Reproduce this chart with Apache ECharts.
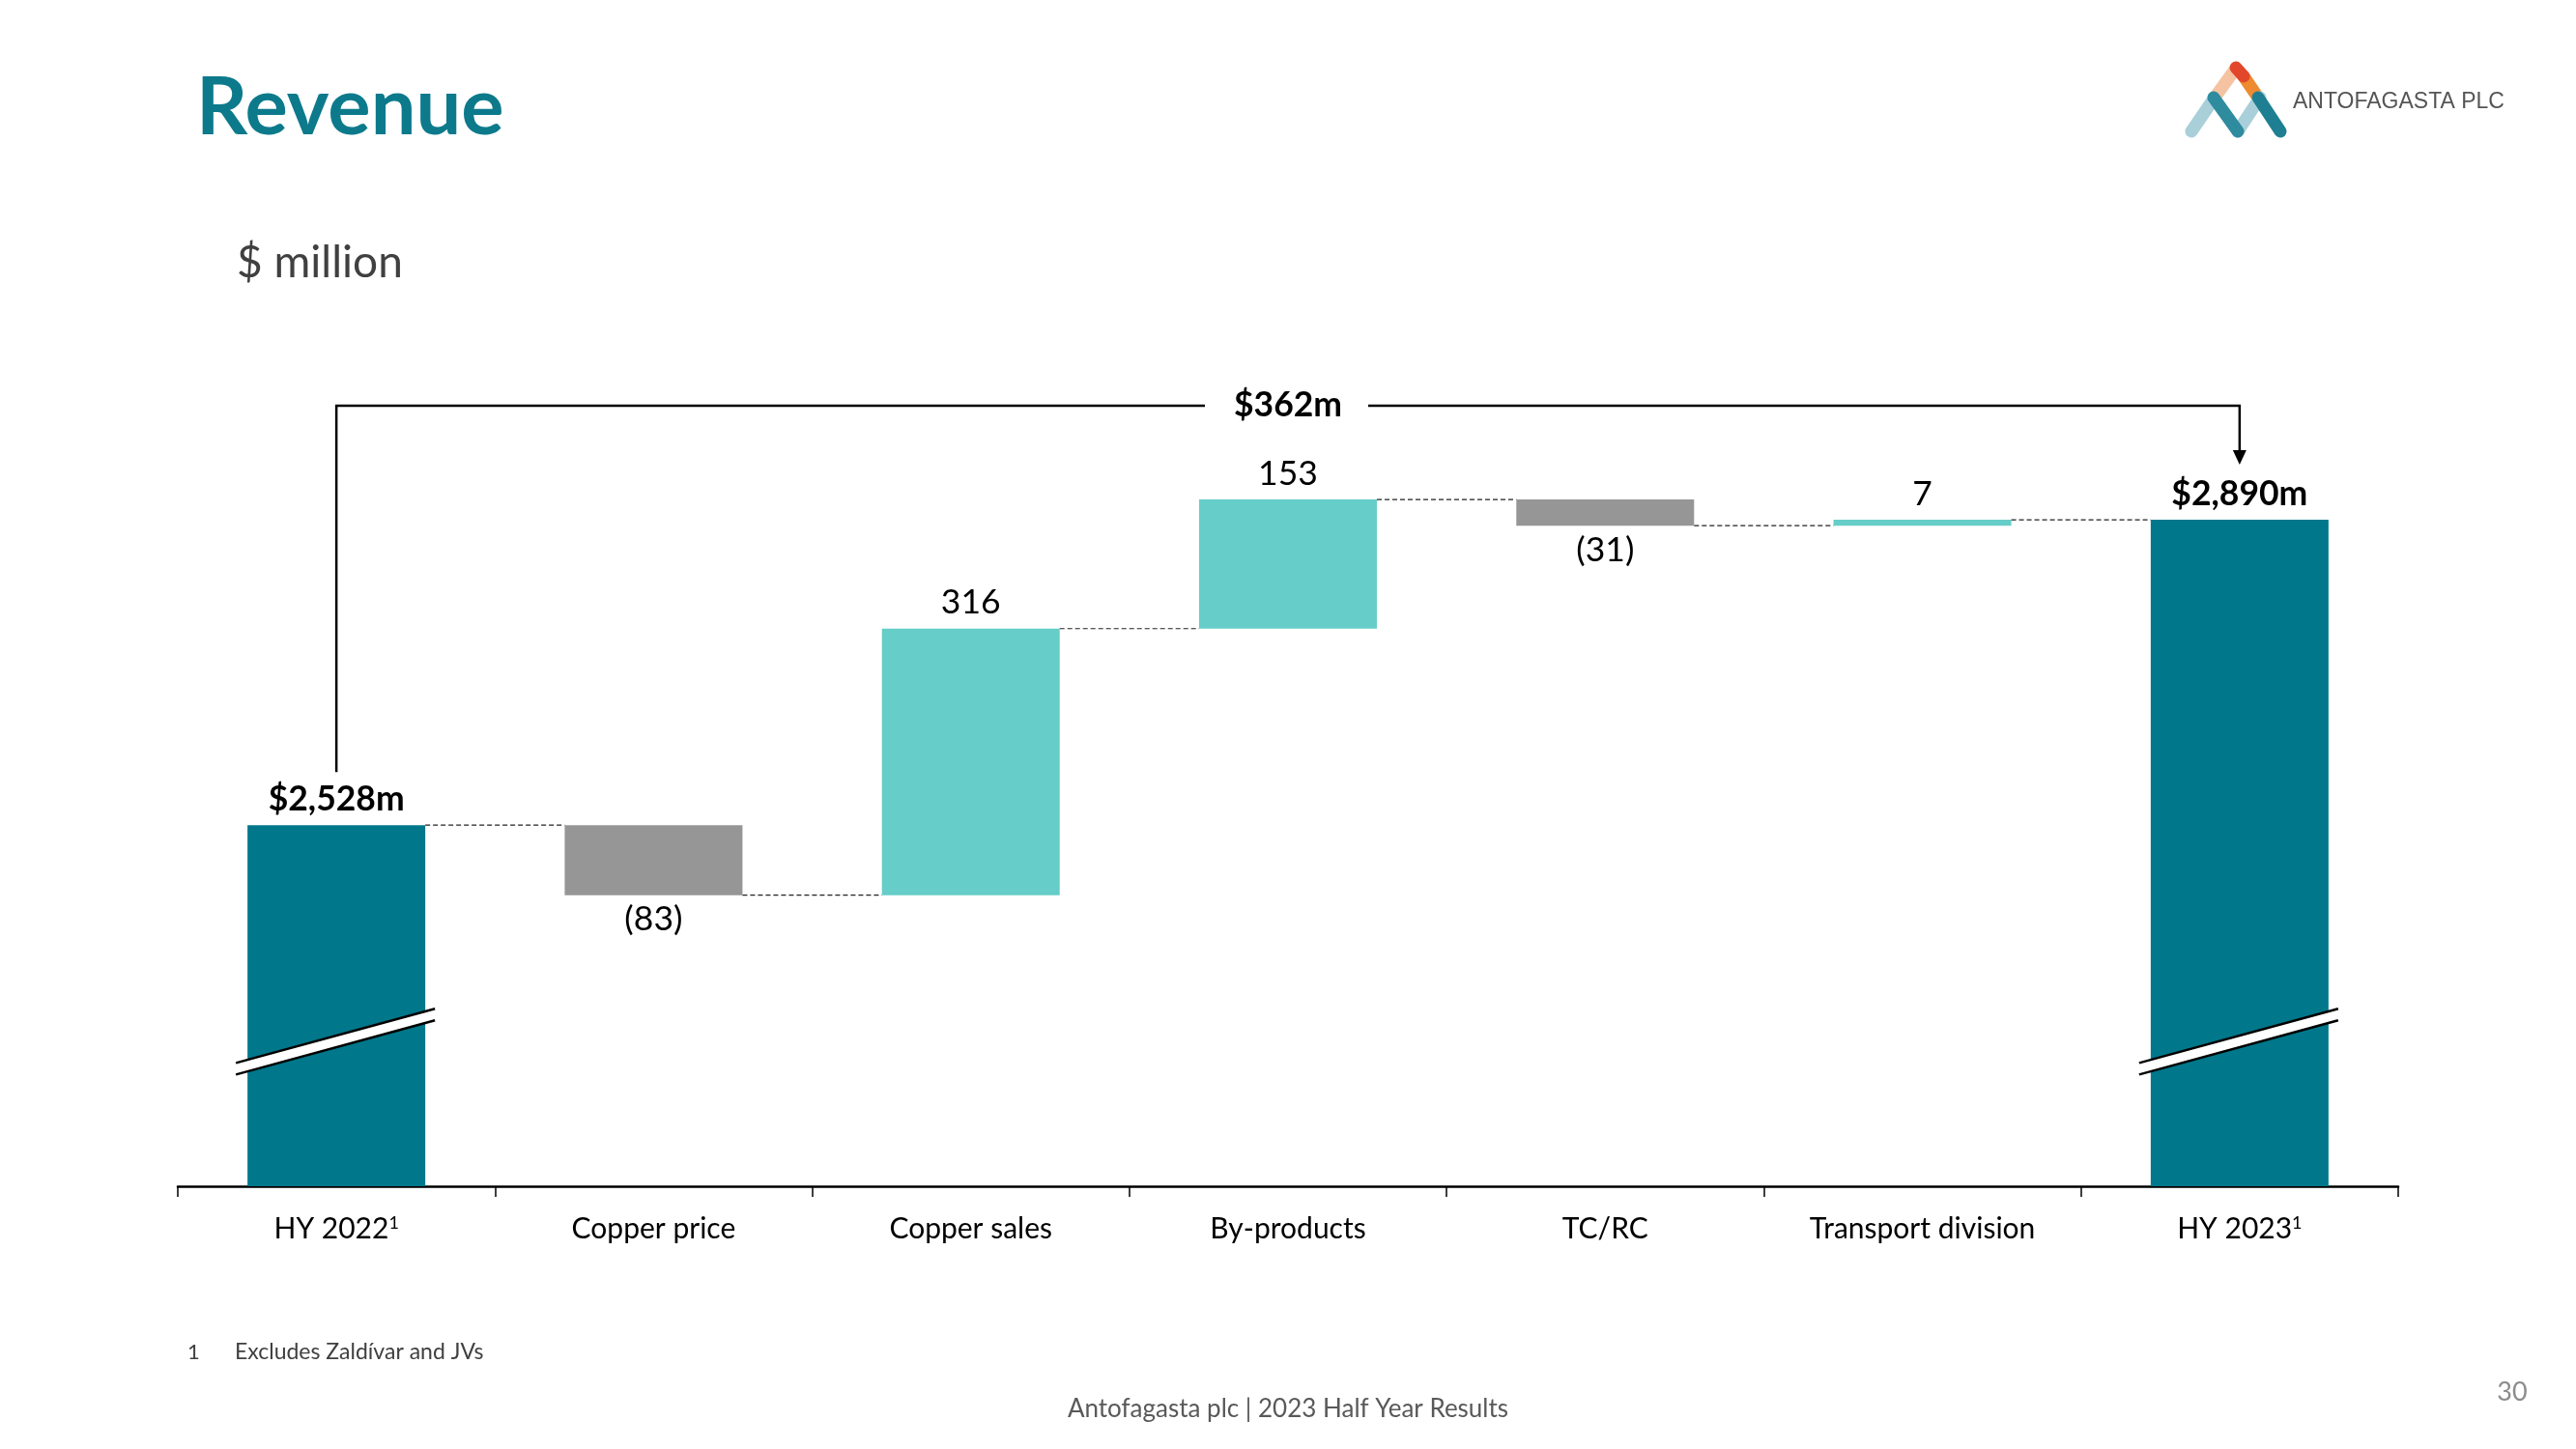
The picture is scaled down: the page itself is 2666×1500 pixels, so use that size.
<!DOCTYPE html>
<html><head><meta charset="utf-8">
<script src="https://cdn.jsdelivr.net/npm/echarts@6/dist/echarts.min.js"></script>
<style>html,body{margin:0;padding:0;background:#fff}#c{width:2666px;height:1500px}</style>
</head><body><div id="c"></div>
<script>
// ---- data ----
const categories = ['HY 2022', 'Copper price', 'Copper sales', 'By-products', 'TC/RC', 'Transport division', 'HY 2023'];
const footnoteMarks = ['1', '', '', '', '', '', '1'];
const openingTotal = 2528;
const changes = [-83, 316, 153, -31, 7];
const closingTotal = 2890;
const netChange = 362;
const yMin = 2100;
const yMax = 3000;

// ---- styles ----
const FONT = 'Lato, "Open Sans", sans-serif';
const COLORS = { total: '#00778A', up: '#66CDC8', down: '#969696' };

// ---- derived waterfall arrays ----
const kinds = ['total'].concat(changes.map(c => c >= 0 ? 'up' : 'down'), ['total']);
const base = [0], visible = [openingTotal], levels = [openingTotal];
let run = openingTotal;
changes.forEach(c => {
  base.push(c >= 0 ? run : run + c);
  visible.push(Math.abs(c));
  run += c;
  levels.push(run);
});
base.push(0); visible.push(closingTotal); levels.push(closingTotal);
const fmtTotal = v => '$' + v.toLocaleString('en-US') + 'm';
const labelTexts = [fmtTotal(openingTotal)].concat(
  changes.map(c => c >= 0 ? String(c) : '(' + Math.abs(c) + ')'), [fmtTotal(closingTotal)]);

const BAR_W = 184;
const chart = echarts.init(document.getElementById('c'), null, { renderer: 'canvas' });

chart.setOption({
  animation: false,
  backgroundColor: '#ffffff',
  grid: { left: 184, right: 184, top: 442, bottom: 272, containLabel: false, outerBoundsMode: 'none' },
  xAxis: {
    type: 'category',
    data: categories,
    axisLine: { lineStyle: { color: '#000', width: 2.5 } },
    axisTick: { show: true, alignWithLabel: false, length: 11, lineStyle: { color: '#000', width: 1.5 } },
    axisLabel: {
      margin: 29, fontSize: 30, color: '#000', fontFamily: FONT, interval: 0,
      formatter: (val, idx) => footnoteMarks[idx] ? val + '{sup|' + footnoteMarks[idx] + '}' : val,
      rich: { sup: { fontSize: 18, fontFamily: FONT, color: '#000', verticalAlign: 'top', padding: [0, 0, 11, 0] } }
    },
    splitLine: { show: false }
  },
  yAxis: { type: 'value', min: yMin, max: yMax, show: false, splitLine: { show: false } },
  series: [
    {
      type: 'bar', stack: 'w', barWidth: BAR_W, silent: true, clip: true,
      itemStyle: { color: 'rgba(0,0,0,0)' },
      data: base
    },
    {
      type: 'bar', stack: 'w', barWidth: BAR_W, clip: true,
      data: visible.map((v, i) => ({
        value: v,
        itemStyle: { color: COLORS[kinds[i]] },
        label: {
          show: true,
          position: kinds[i] === 'down' ? 'bottom' : 'top',
          distance: kinds[i] === 'down' ? 7 : 9,
          fontWeight: kinds[i] === 'total' ? 'bold' : 'normal'
        }
      })),
      label: {
        show: true, fontSize: 35.5, color: '#000', fontFamily: FONT,
        formatter: p => labelTexts[p.dataIndex]
      }
    }
  ]
});

// ---- annotations through the chart's own coordinate system ----
const px = (i, v) => chart.convertToPixel({ xAxisIndex: 0, yAxisIndex: 0 }, [i, v]);
const g = [];
const axisY = px(0, yMin)[1];
const gridTop = px(0, yMax)[1];
const half = BAR_W / 2;

// dashed connectors
for (let i = 0; i < categories.length - 1; i++) {
  const y = px(i, levels[i])[1];
  g.push({ type: 'line', z: 50, shape: { x1: px(i, 0)[0] + half, y1: y, x2: px(i + 1, 0)[0] - half, y2: y },
    style: { stroke: '#222', lineWidth: 1.2, lineDash: [5, 3] } });
}

// axis break marks on the total bars
kinds.forEach((k, i) => {
  if (k !== 'total') return;
  const cx = px(i, 0)[0], cm = axisY - 150, s = 0.2725, gap = 6;
  const xa = cx - 104, xb = cx + 102;
  const yu = x => cm - gap - s * (x - cx);
  const yl = x => cm + gap - s * (x - cx);
  g.push({ type: 'polygon', z: 60, shape: { points: [[xa, yu(xa)], [xb, yu(xb)], [xb, yl(xb)], [xa, yl(xa)]] }, style: { fill: '#fff' } });
  g.push({ type: 'line', z: 61, shape: { x1: xa, y1: yu(xa), x2: xb, y2: yu(xb) }, style: { stroke: '#000', lineWidth: 2.5 } });
  g.push({ type: 'line', z: 61, shape: { x1: xa, y1: yl(xa), x2: xb, y2: yl(xb) }, style: { stroke: '#000', lineWidth: 2.5 } });
});

// bracket showing net change
const bY = gridTop - 22;
const lx = px(0, 0)[0], rx = px(categories.length - 1, 0)[0], mx = px(3, 0)[0];
const startY = px(0, openingTotal)[1] - 55;
const tipY = px(categories.length - 1, closingTotal)[1] - 57;
g.push({ type: 'polyline', z: 70, shape: { points: [[lx, startY], [lx, bY], [mx - 86, bY]] }, style: { stroke: '#000', lineWidth: 2.5, fill: null } });
g.push({ type: 'polyline', z: 70, shape: { points: [[mx + 83, bY], [rx, bY], [rx, tipY - 12]] }, style: { stroke: '#000', lineWidth: 2.5, fill: null } });
g.push({ type: 'polygon', z: 70, shape: { points: [[rx - 7, tipY - 15], [rx + 7, tipY - 15], [rx, tipY]] }, style: { fill: '#000' } });
g.push({ type: 'text', z: 70, x: mx, y: bY, style: { text: '$' + netChange + 'm', fontSize: 35.5, fontWeight: 'bold', fontFamily: FONT, fill: '#000', align: 'center', verticalAlign: 'middle' } });

// slide texts
const txt = (text, x, y, size, color, extra) => g.push(Object.assign({ type: 'text', z: 80, x, y,
  style: Object.assign({ text, fontSize: size, fontFamily: FONT, fill: color, align: 'left', verticalAlign: 'middle' }, extra || {}) }));
txt('Revenue', 203, 112, 83, '#0D7A8C', { fontWeight: 'bold' });
txt('$ million', 245, 272, 46, '#404040');
txt('1', 194, 1400, 22, '#404040');
txt('Excludes Zaldívar and JVs', 243, 1400, 23, '#404040');
txt('Antofagasta plc | 2023 Half Year Results', 1333, 1459, 26, '#595959', { align: 'center' });
txt('30', 2600, 1441, 27, '#8C8C8C', { align: 'center' });
txt('ANTOFAGASTA PLC', 2373, 106, 23, '#555555', { fontFamily: '"Liberation Sans", Arial, sans-serif' });

// logo mark
const stroke = (x1, y1, x2, y2, c) => g.push({ type: 'line', z: 80, shape: { x1, y1, x2, y2 }, style: { stroke: c, lineWidth: 13, lineCap: 'round' } });
stroke(2268, 136, 2292, 101, '#A9CFD9');
stroke(2292, 101, 2313, 72, '#F5C3A2');
stroke(2322, 79, 2337, 101, '#EE8B30');
stroke(2314, 70, 2322, 79, '#E2472B');
stroke(2316, 136, 2339, 101, '#A9D0DA');
stroke(2337, 101, 2360, 136, '#1F7F92');
stroke(2291, 101, 2316, 136, '#2E8C9E');

chart.setOption({ graphic: g });
</script>
</body></html>
